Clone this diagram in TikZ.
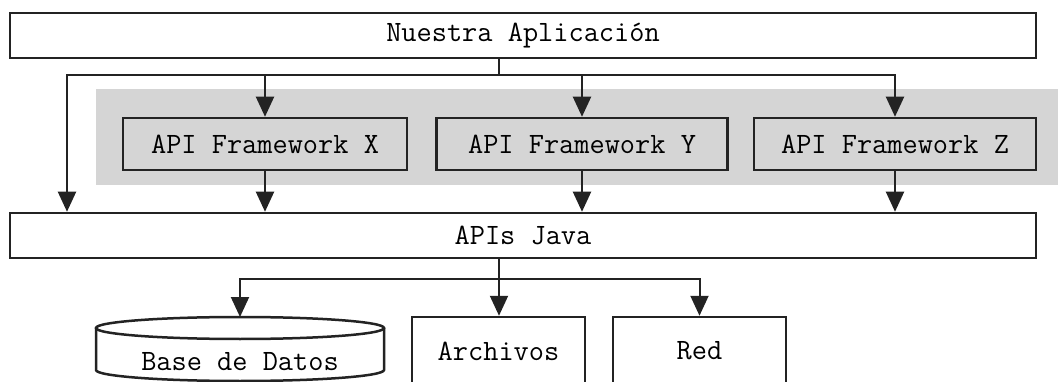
\documentclass[tikz,border=0pt]{standalone}
\usepackage{fontspec}
\usepackage{tikz}
\usetikzlibrary{arrows.meta, positioning, calc}
\definecolor{bgray}{RGB}{213, 213, 213}
\definecolor{lgray}{RGB}{35, 35, 35}

\begin{document}
\begin{tikzpicture}[x=1pt, y=-1pt,
    box/.style={draw=lgray, line width=2.5pt, inner sep=0pt,
      font=\ttfamily\fontsize{29.5}{34}\selectfont},
    fwbox/.style={box, fill=bgray, minimum width=286pt, minimum height=52pt},
    arr/.style={-{Triangle[length=20pt, width=18pt]}, lgray, line width=2pt},
    conn/.style={lgray, line width=2pt}]
        \useasboundingbox (0,0) rectangle (1058,382);
        \clip (0,0) rectangle (1058,382);
        % Framework band
        \fill[bgray] (96,89) rectangle (1058,185);
        % Application and Java layers
        \node[box, minimum width=1026pt, minimum height=45pt] (app) at (523,35.5)
          {Nuestra Aplicación};
        \node[box, minimum width=1026pt, minimum height=45pt] (java) at (523,235.5)
          {APIs Java};
        % Frameworks
        \node[fwbox, minimum width=284pt] (fwx) at (265,144) {API Framework X};
        \node[fwbox, minimum width=291pt] (fwy) at (582,144) {API Framework Y};
        \node[fwbox, minimum width=282pt] (fwz) at (895,144) {API Framework Z};
        % Resources
        \node[box, minimum width=173pt, minimum height=68pt] (arch) at (498.5,351)
          {Archivos};
        \node[box, minimum width=173pt, minimum height=68pt] (red) at (699.5,351)
          {Red};
        \draw[box] (96,328) -- (96,370)
          arc[start angle=180, end angle=0, x radius=144, y radius=11] -- (384,328);
        \draw[box, fill=white] (240,328) ellipse[x radius=144, y radius=11];
        \node[box, draw=none] (db) at (240,362) {Base de Datos};
        \coordinate (dbtop) at (240,317);
        % Upper connectors
        \coordinate (split) at (499,75);
        \coordinate (lft) at (67,75);
        \draw[conn] (app.south -| split) -- (split);
        \draw[arr] (split) -- (lft) -- (lft |- java.north);
        \foreach \f in {fwx,fwy,fwz} {
          \draw[arr] (split) -| (\f.north);
          \draw[arr] (\f.south) -- (\f.south |- java.north);
        }
        % Lower connectors
        \coordinate (split2) at (499,279);
        \draw[conn] (java.south -| split2) -- (split2);
        \draw[arr] (split2) -| (dbtop);
        \draw[arr] (split2) -- (split2 |- arch.north);
        \draw[arr] (split2) -| (red.north);
      \end{tikzpicture}
\end{document}
